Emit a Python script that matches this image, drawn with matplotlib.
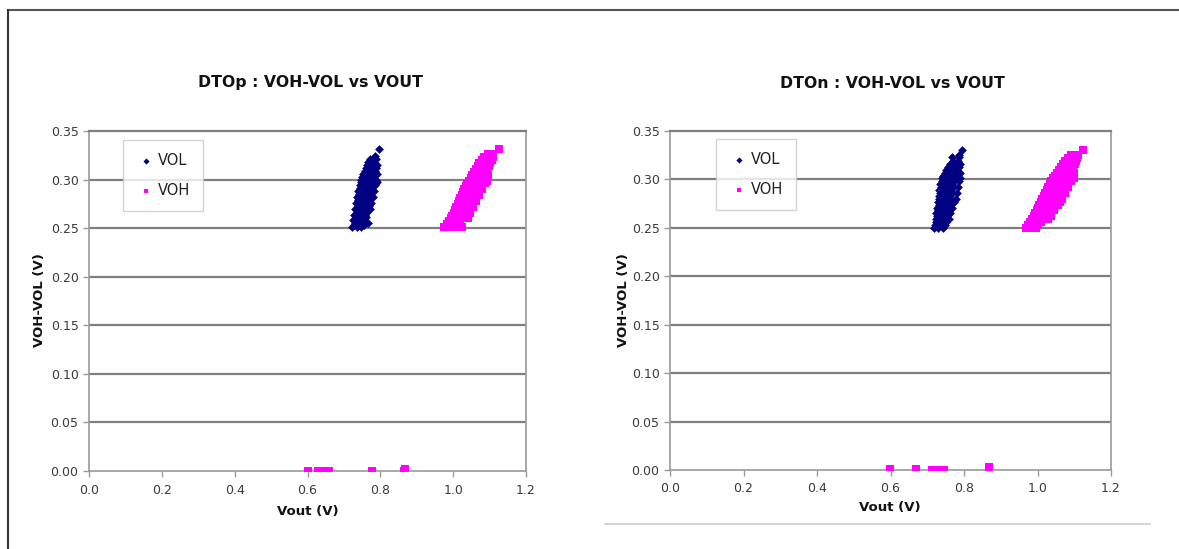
import matplotlib
matplotlib.use("Agg")
import matplotlib.pyplot as plt
from matplotlib.lines import Line2D

# ---------------- data ----------------
# DTOp chart
dtop_vol_x = [0.722, 0.735, 0.748, 0.728, 0.741, 0.756, 0.731, 0.752, 0.766, 0.726, 0.739, 0.755,
              0.733, 0.745, 0.760, 0.729, 0.742, 0.757, 0.736, 0.749, 0.764, 0.731, 0.746, 0.762, 0.772,
              0.738, 0.753, 0.768, 0.734, 0.748, 0.763, 0.775, 0.740, 0.755, 0.770,
              0.737, 0.751, 0.766, 0.780, 0.742, 0.757, 0.772, 0.739, 0.754, 0.769, 0.783,
              0.745, 0.760, 0.775, 0.743, 0.757, 0.772, 0.786, 0.748, 0.763, 0.778, 0.790,
              0.746, 0.760, 0.775, 0.788, 0.751, 0.766, 0.781, 0.753, 0.768, 0.783, 0.792,
              0.757, 0.771, 0.785, 0.760, 0.774, 0.788, 0.763, 0.778, 0.790, 0.767, 0.782,
              0.772, 0.788, 0.785, 0.796]
dtop_vol_y = [0.251, 0.251, 0.251, 0.253, 0.253, 0.253, 0.255, 0.255, 0.255, 0.258, 0.258, 0.258,
              0.261, 0.261, 0.261, 0.264, 0.264, 0.264, 0.267, 0.267, 0.267, 0.270, 0.270, 0.270, 0.270,
              0.273, 0.273, 0.273, 0.276, 0.276, 0.276, 0.276, 0.279, 0.279, 0.279,
              0.282, 0.282, 0.282, 0.282, 0.285, 0.285, 0.285, 0.288, 0.288, 0.288, 0.288,
              0.291, 0.291, 0.291, 0.294, 0.294, 0.294, 0.294, 0.297, 0.297, 0.297, 0.297,
              0.300, 0.300, 0.300, 0.300, 0.303, 0.303, 0.303, 0.306, 0.306, 0.306, 0.306,
              0.309, 0.309, 0.309, 0.312, 0.312, 0.312, 0.315, 0.315, 0.315, 0.318, 0.318,
              0.321, 0.321, 0.324, 0.331]

dtop_voh_x = [0.975, 0.990, 1.005, 1.025, 0.982, 0.996, 1.012, 0.988, 1.003, 1.020,
              0.994, 1.008, 1.024, 1.040, 0.998, 1.013, 1.030, 1.002, 1.017, 1.033, 1.046,
              1.006, 1.021, 1.037, 1.009, 1.025, 1.041, 1.055, 1.013, 1.029, 1.045,
              1.016, 1.032, 1.049, 1.064, 1.020, 1.036, 1.053, 1.024, 1.040, 1.057, 1.071,
              1.027, 1.044, 1.061, 1.031, 1.048, 1.065, 1.079, 1.035, 1.052, 1.069,
              1.039, 1.056, 1.073, 1.087, 1.043, 1.060, 1.077, 1.092, 1.048, 1.064, 1.081,
              1.052, 1.068, 1.085, 1.097, 1.057, 1.073, 1.089, 1.062, 1.078, 1.093,
              1.067, 1.083, 1.098, 1.072, 1.088, 1.102, 1.078, 1.093, 1.108,
              1.086, 1.101, 1.110, 1.095, 1.108, 1.127,
              0.600, 0.628, 0.640, 0.652, 0.660, 0.778, 0.866, 0.869]
dtop_voh_y = [0.251, 0.251, 0.251, 0.251, 0.254, 0.254, 0.254, 0.257, 0.257, 0.257,
              0.260, 0.260, 0.260, 0.260, 0.263, 0.263, 0.263, 0.266, 0.266, 0.266, 0.266,
              0.269, 0.269, 0.269, 0.272, 0.272, 0.272, 0.272, 0.275, 0.275, 0.275,
              0.278, 0.278, 0.278, 0.278, 0.281, 0.281, 0.281, 0.284, 0.284, 0.284, 0.284,
              0.287, 0.287, 0.287, 0.290, 0.290, 0.290, 0.290, 0.293, 0.293, 0.293,
              0.296, 0.296, 0.296, 0.296, 0.299, 0.299, 0.299, 0.299, 0.302, 0.302, 0.302,
              0.305, 0.305, 0.305, 0.305, 0.308, 0.308, 0.308, 0.311, 0.311, 0.311,
              0.314, 0.314, 0.314, 0.317, 0.317, 0.317, 0.320, 0.320, 0.320,
              0.323, 0.323, 0.323, 0.326, 0.326, 0.331,
              0.000, 0.000, 0.000, 0.000, 0.000, 0.000, 0.000, 0.002]

# DTOn chart
dton_vol_x = [0.718, 0.730, 0.742, 0.722, 0.735, 0.747, 0.725, 0.738, 0.751,
              0.723, 0.736, 0.750, 0.758, 0.727, 0.741, 0.755, 0.725, 0.739, 0.753, 0.762,
              0.729, 0.743, 0.757, 0.727, 0.741, 0.755, 0.767, 0.731, 0.745, 0.760,
              0.729, 0.744, 0.758, 0.772, 0.733, 0.748, 0.763, 0.777, 0.731, 0.746, 0.761,
              0.735, 0.750, 0.766, 0.780, 0.733, 0.748, 0.764, 0.738, 0.753, 0.769, 0.783,
              0.736, 0.751, 0.767, 0.741, 0.756, 0.772, 0.786, 0.739, 0.755, 0.770, 0.788,
              0.744, 0.760, 0.775, 0.747, 0.763, 0.779, 0.790, 0.752, 0.767, 0.782,
              0.757, 0.772, 0.786, 0.762, 0.777, 0.789, 0.769, 0.783,
              0.767, 0.787, 0.787, 0.794]
dton_vol_y = [0.250, 0.250, 0.250, 0.253, 0.253, 0.253, 0.256, 0.256, 0.256,
              0.259, 0.259, 0.259, 0.259, 0.262, 0.262, 0.262, 0.265, 0.265, 0.265, 0.265,
              0.268, 0.268, 0.268, 0.271, 0.271, 0.271, 0.271, 0.274, 0.274, 0.274,
              0.277, 0.277, 0.277, 0.277, 0.280, 0.280, 0.280, 0.280, 0.283, 0.283, 0.283,
              0.286, 0.286, 0.286, 0.286, 0.289, 0.289, 0.289, 0.292, 0.292, 0.292, 0.292,
              0.295, 0.295, 0.295, 0.298, 0.298, 0.298, 0.298, 0.301, 0.301, 0.301, 0.301,
              0.304, 0.304, 0.304, 0.307, 0.307, 0.307, 0.307, 0.310, 0.310, 0.310,
              0.313, 0.313, 0.313, 0.316, 0.316, 0.316, 0.319, 0.319,
              0.323, 0.323, 0.325, 0.330]

dton_voh_x = [0.970, 0.982, 0.995, 0.975, 0.988, 1.002, 0.980, 0.994, 1.009,
              0.985, 0.999, 1.015, 1.028, 0.990, 1.004, 1.020, 1.036, 0.994, 1.009, 1.025,
              0.998, 1.013, 1.029, 1.045, 1.002, 1.018, 1.034, 1.005, 1.022, 1.038, 1.055,
              1.009, 1.026, 1.043, 1.062, 1.013, 1.030, 1.047, 1.068, 1.017, 1.034, 1.052,
              1.021, 1.038, 1.056, 1.074, 1.025, 1.042, 1.060, 1.029, 1.047, 1.065, 1.082,
              1.033, 1.051, 1.069, 1.038, 1.056, 1.074, 1.092, 1.042, 1.060, 1.078, 1.098,
              1.047, 1.065, 1.083, 1.052, 1.070, 1.088, 1.100, 1.058, 1.076, 1.093,
              1.063, 1.081, 1.097, 1.069, 1.086, 1.101, 1.075, 1.092, 1.105,
              1.083, 1.099, 1.108, 1.090, 1.110, 1.123,
              0.599, 0.669, 0.712, 0.720, 0.728, 0.736, 0.745, 0.867, 0.867]
dton_voh_y = [0.250, 0.250, 0.250, 0.253, 0.253, 0.253, 0.256, 0.256, 0.256,
              0.259, 0.259, 0.259, 0.259, 0.262, 0.262, 0.262, 0.262, 0.265, 0.265, 0.265,
              0.268, 0.268, 0.268, 0.268, 0.271, 0.271, 0.271, 0.274, 0.274, 0.274, 0.274,
              0.277, 0.277, 0.277, 0.277, 0.280, 0.280, 0.280, 0.280, 0.283, 0.283, 0.283,
              0.286, 0.286, 0.286, 0.286, 0.289, 0.289, 0.289, 0.292, 0.292, 0.292, 0.292,
              0.295, 0.295, 0.295, 0.298, 0.298, 0.298, 0.298, 0.301, 0.301, 0.301, 0.301,
              0.304, 0.304, 0.304, 0.307, 0.307, 0.307, 0.307, 0.310, 0.310, 0.310,
              0.313, 0.313, 0.313, 0.316, 0.316, 0.316, 0.319, 0.319, 0.319,
              0.322, 0.322, 0.322, 0.325, 0.325, 0.330,
              0.001, 0.001, 0.000, 0.000, 0.000, 0.000, 0.000, 0.000, 0.003]

x_ticks = [0.0, 0.2, 0.4, 0.6, 0.8, 1.0, 1.2]
y_ticks = [0.00, 0.05, 0.10, 0.15, 0.20, 0.25, 0.30, 0.35]
titles = ["DTOp : VOH-VOL vs VOUT", "DTOn : VOH-VOL vs VOUT"]
series_names = ["VOL", "VOH"]
x_label = "Vout (V)"
y_label = "VOH-VOL (V)"

# ---------------- styling ----------------
VOL_C = "#000080"
VOH_C = "#ff00ff"
GRID_C = "#7f7f7f"
AX_C = "#9a9a9a"
TXT_C = "#3a3a3a"

plt.rcParams["font.family"] = ["DejaVu Sans"]

fig = plt.figure(figsize=(11.79, 5.49), dpi=100)
W, H = 1179.0, 549.0


def px_rect(x0, x1, ytop, ybot):
    return [x0 / W, (H - ybot) / H, (x1 - x0) / W, (ybot - ytop) / H]


charts = [
    dict(rect=px_rect(89, 526, 131, 471), vol=(dtop_vol_x, dtop_vol_y), voh=(dtop_voh_x, dtop_voh_y),
         title=titles[0], tpos=(310, 83), xlpos=(308, 512), ylpos=(40, 300), leg=(0.077, 0.9735)),
    dict(rect=px_rect(670, 1111, 131, 470), vol=(dton_vol_x, dton_vol_y), voh=(dton_voh_x, dton_voh_y),
         title=titles[1], tpos=(892, 83), xlpos=(890, 507), ylpos=(624, 300), leg=(0.104, 0.976)),
]

for c in charts:
    ax = fig.add_axes(c["rect"])
    ax.set_xlim(0, 1.2)
    ax.set_ylim(0, 0.35)
    ax.set_xticks(x_ticks)
    ax.set_yticks(y_ticks)
    ax.set_xticklabels([f"{v:.1f}" for v in x_ticks])
    ax.set_yticklabels([f"{v:.2f}" for v in y_ticks])
    ax.tick_params(axis="both", labelsize=9, colors=AX_C, labelcolor=TXT_C, length=4, width=1, direction="out")
    ax.tick_params(axis="x", pad=5)
    for s in ax.spines.values():
        s.set_color(AX_C)
        s.set_linewidth(1.2)
    ax.spines["top"].set_color(GRID_C)
    ax.spines["top"].set_linewidth(1.6)
    for yv in y_ticks[1:-1]:
        ax.axhline(yv, color=GRID_C, lw=1.6, zorder=1)

    ax.scatter(c["vol"][0], c["vol"][1], marker="D", s=20, color=VOL_C, linewidths=0,
               label=series_names[0], zorder=3)
    ax.scatter(c["voh"][0], c["voh"][1], marker="s", s=26, color=VOH_C, linewidths=0,
               label=series_names[1], zorder=3)

    leg = ax.legend(loc="upper left", bbox_to_anchor=c["leg"], borderaxespad=0, frameon=True,
                    fancybox=False, fontsize=10.5, handletextpad=0.1, handlelength=1.4,
                    labelspacing=1.0, borderpad=0.9, markerscale=0.7, scatterpoints=1)
    leg.get_frame().set_edgecolor("#c8c8c8")
    leg.get_frame().set_linewidth(1.0)
    for t in leg.get_texts():
        t.set_color("#222222")

    fig.text(c["tpos"][0] / W, 1 - c["tpos"][1] / H, c["title"], ha="center", va="center",
             fontsize=11.3, fontweight="bold", color="#111111")
    fig.text(c["xlpos"][0] / W, 1 - c["xlpos"][1] / H, x_label, ha="center", va="center",
             fontsize=9.5, fontweight="bold", color="#111111")
    fig.text(c["ylpos"][0] / W, 1 - c["ylpos"][1] / H, y_label, ha="center", va="center",
             rotation=90, fontsize=9.5, fontweight="bold", color="#111111")

# frame lines of the screenshot
fig.add_artist(Line2D([8 / W, 1.0], [1 - 10 / H, 1 - 10 / H], color="#555555", lw=1.5))
fig.add_artist(Line2D([8 / W, 8 / W], [1 - 10 / H, 0.0], color="#333333", lw=1.5))
fig.add_artist(Line2D([605 / W, 1150 / W], [1 - 524 / H, 1 - 524 / H], color="#cccccc", lw=1.2))

fig.savefig("out.png", dpi=100)
